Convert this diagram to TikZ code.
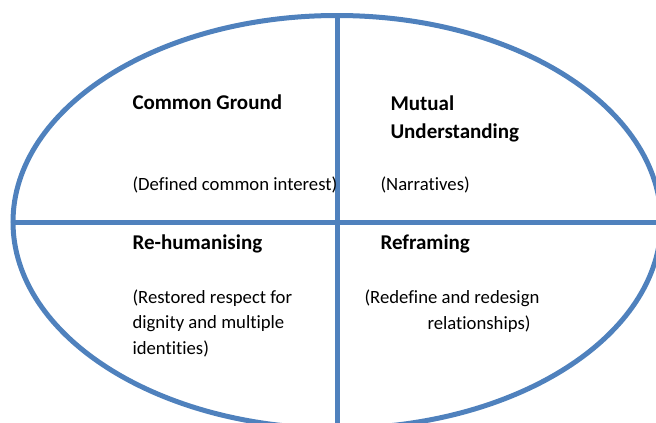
\documentclass[tikz,border=0pt]{standalone}
\usepackage{fontspec}
\setmainfont[Ligatures={NoCommon,NoContextual}]{Carlito}
\usetikzlibrary{shapes.geometric}
\definecolor{quadblue}{HTML}{4F81BD}

\begin{document}
\begin{tikzpicture}[x=1pt,y=-1pt, line width=5pt,
        every node/.append style={inner sep=0pt, anchor=base west}]
      \tikzstyle{title} = [font=\fontsize{21}{28}\selectfont\bfseries, align=left]
      \tikzstyle{note} = [font=\fontsize{18.7}{25.5}\selectfont, align=left]
      \clip (0,0) rectangle (656,423);
      \node (oval) [ellipse, draw=quadblue, minimum width=648pt, minimum height=413pt, anchor=center] at (337,222) {};
      \draw[quadblue] (oval.north) -- (oval.south);
      \draw[quadblue] (oval.west) -- (oval.east);
      % upper half (base = last line)
      \node (ground) [title] at (130,109) {Common Ground};
      \node (mutual) [title] at (388,138) {Mutual\\Understanding};
      \node (interest) [note] at (130,190) {(Defined common interest)};
      \node (narratives) [note] at (378,190) {(Narratives)};
      % lower half
      \node (rehuman) [title] at (130,249) {Re-humanising};
      \node (reframe) [title] at (378,249) {Reframing};
      \node (respect) [note] at (130,354) {(Restored respect for\\dignity and multiple\\identities)};
      \node (redesign) [note] at (362,329) {(Redefine and redesign\\\hspace*{63pt}relationships)};
\end{tikzpicture}
\end{document}
